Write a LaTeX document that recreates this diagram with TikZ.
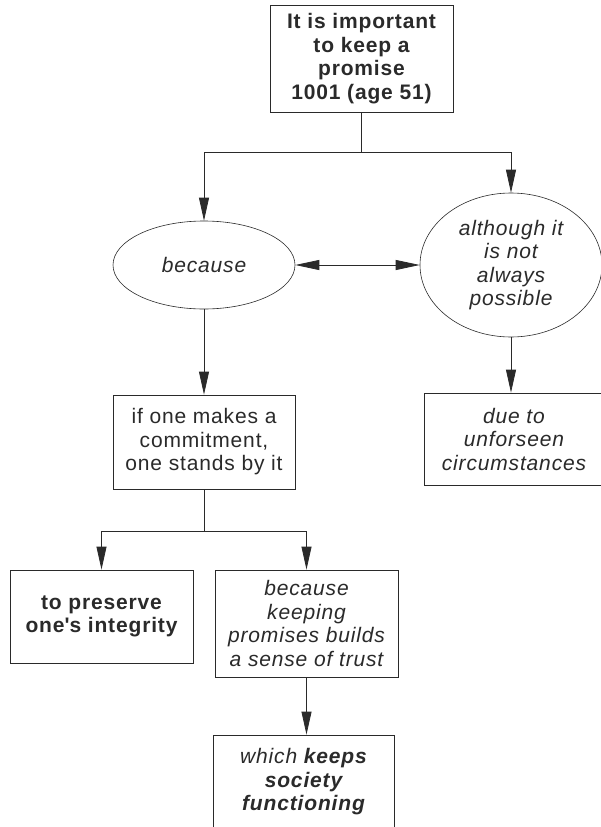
\documentclass[tikz,border=0pt]{standalone}
\usepackage{fontspec}
\setmainfont{Liberation Sans}[LetterSpace=4]
\usetikzlibrary{shapes.geometric,arrows.meta}
\definecolor{ink}{HTML}{2A2A2A}
\begin{document}
\begin{tikzpicture}[x=1pt,y=-1pt,
    every node/.style={text=ink, align=center, font=\fontsize{21}{23.5}\selectfont},
    box/.style={draw=ink, line width=0.8pt, rectangle, inner sep=0pt, minimum width=183pt},
    oval/.style={draw=ink, line width=0.6pt, ellipse, inner sep=0pt},
    link/.style={draw=ink, line width=0.8pt},
    arr/.style={link, -{Triangle[length=23pt,width=10pt]}}]
    \useasboundingbox (0,0) rectangle (600,827);
    \fill[white] (0,0) rectangle (600,827);
    % boxes and ovals
    \node[box, minimum height=107pt] (promise) at (361.5,58.5) {\bfseries It is important\\\bfseries to keep a\\\bfseries promise\\\bfseries 1001 (age 51)};
    \node[oval, minimum width=182pt, minimum height=88pt] (because) at (204,265) {\itshape because};
    \node[oval, minimum width=182pt, minimum height=144pt] (although) at (511,265) {\itshape although it\\\itshape is not\\\itshape always\\\itshape possible};
    \node[box, minimum width=182pt, minimum height=94pt] (commit) at (204,442) {if one makes a\\commitment,\\one stands by it};
    \node[box, minimum width=180pt, minimum height=92pt] (circum) at (514,439) {\itshape due to\\\itshape unforseen\\\itshape circumstances};
    \node[box, minimum height=93pt] (integrity) at (101.5,616.5) {\bfseries to preserve\\\bfseries one\textquotesingle s integrity};
    \node[box, minimum height=107pt] (trust) at (306.5,623.5) {\itshape because\\\itshape keeping\\\itshape promises builds\\\itshape a sense of trust};
    \node[box, minimum width=181pt, minimum height=94pt] (society) at (303.5,782) {\itshape which \bfseries keeps\\\bfseries\itshape society\\\bfseries\itshape functioning};
    % connectors
    \coordinate (fork1) at (361.5,152);
    \coordinate (fork2) at (204,531);
    \draw[link] (promise) -- (fork1);
    \draw[arr] (fork1) -| (because.north);
    \draw[arr] (fork1) -| (although.north);
    \draw[arr, {Triangle[length=24pt,width=10pt]}-{Triangle[length=24pt,width=10pt]}] (because.east) -- (although.west);
    \draw[arr] (because) -- (commit);
    \draw[arr] (although.south) -- (although.south |- circum.north);
    \draw[link] (commit) -- (fork2);
    \draw[arr] (fork2) -| (integrity.north);
    \draw[arr] (fork2) -| (trust.north);
    \draw[arr] (trust.south) -- (trust.south |- society.north);
\end{tikzpicture}
\end{document}
